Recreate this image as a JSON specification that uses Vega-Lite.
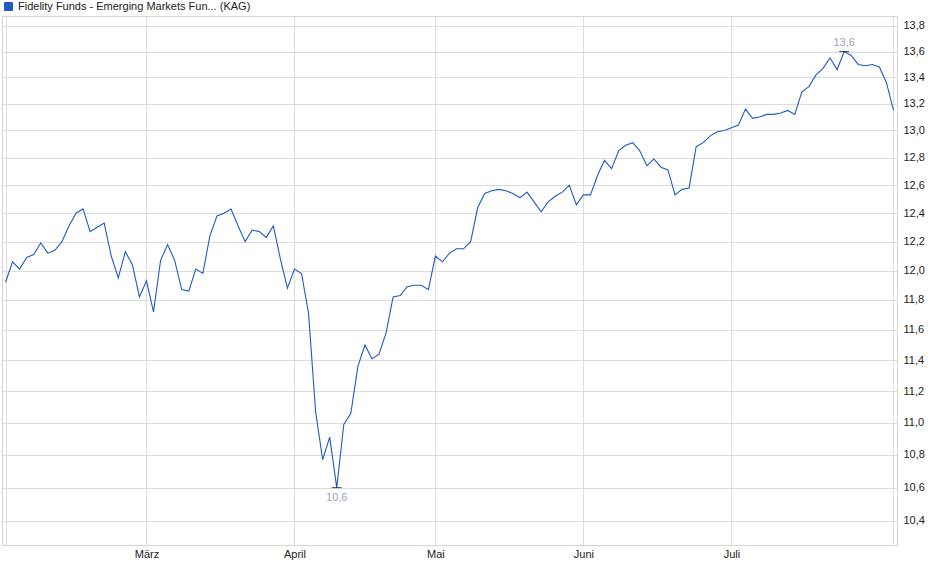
{
  "$schema": "https://vega.github.io/schema/vega-lite/v6.json",
  "width": 895,
  "height": 529,
  "autosize": "none",
  "padding": {"left": 2, "top": 16, "right": 43, "bottom": 34},
  "background": "white",
  "data": {
    "values": [
      {"date": "2025-02-03", "price": 11.92},
      {"date": "2025-02-04", "price": 12.06},
      {"date": "2025-02-05", "price": 12.01},
      {"date": "2025-02-06", "price": 12.09},
      {"date": "2025-02-07", "price": 12.11},
      {"date": "2025-02-10", "price": 12.19},
      {"date": "2025-02-11", "price": 12.12},
      {"date": "2025-02-12", "price": 12.14},
      {"date": "2025-02-13", "price": 12.20},
      {"date": "2025-02-14", "price": 12.31},
      {"date": "2025-02-17", "price": 12.40},
      {"date": "2025-02-18", "price": 12.43},
      {"date": "2025-02-19", "price": 12.27},
      {"date": "2025-02-20", "price": 12.30},
      {"date": "2025-02-21", "price": 12.33},
      {"date": "2025-02-24", "price": 12.10},
      {"date": "2025-02-25", "price": 11.95},
      {"date": "2025-02-26", "price": 12.13},
      {"date": "2025-02-27", "price": 12.04},
      {"date": "2025-02-28", "price": 11.82},
      {"date": "2025-03-03", "price": 11.93},
      {"date": "2025-03-04", "price": 11.72},
      {"date": "2025-03-05", "price": 12.07},
      {"date": "2025-03-06", "price": 12.18},
      {"date": "2025-03-07", "price": 12.07},
      {"date": "2025-03-10", "price": 11.87},
      {"date": "2025-03-11", "price": 11.86},
      {"date": "2025-03-12", "price": 12.01},
      {"date": "2025-03-13", "price": 11.98},
      {"date": "2025-03-14", "price": 12.24},
      {"date": "2025-03-17", "price": 12.38},
      {"date": "2025-03-18", "price": 12.40},
      {"date": "2025-03-19", "price": 12.43},
      {"date": "2025-03-20", "price": 12.31},
      {"date": "2025-03-21", "price": 12.20},
      {"date": "2025-03-24", "price": 12.28},
      {"date": "2025-03-25", "price": 12.27},
      {"date": "2025-03-26", "price": 12.23},
      {"date": "2025-03-27", "price": 12.31},
      {"date": "2025-03-28", "price": 12.08},
      {"date": "2025-03-31", "price": 11.88},
      {"date": "2025-04-01", "price": 12.01},
      {"date": "2025-04-02", "price": 11.98},
      {"date": "2025-04-03", "price": 11.71},
      {"date": "2025-04-04", "price": 11.07},
      {"date": "2025-04-07", "price": 10.77},
      {"date": "2025-04-08", "price": 10.91},
      {"date": "2025-04-09", "price": 10.60},
      {"date": "2025-04-10", "price": 10.99},
      {"date": "2025-04-11", "price": 11.06},
      {"date": "2025-04-14", "price": 11.36},
      {"date": "2025-04-15", "price": 11.50},
      {"date": "2025-04-16", "price": 11.41},
      {"date": "2025-04-17", "price": 11.44},
      {"date": "2025-04-22", "price": 11.58},
      {"date": "2025-04-23", "price": 11.82},
      {"date": "2025-04-24", "price": 11.83},
      {"date": "2025-04-25", "price": 11.89},
      {"date": "2025-04-28", "price": 11.90},
      {"date": "2025-04-29", "price": 11.90},
      {"date": "2025-04-30", "price": 11.87},
      {"date": "2025-05-02", "price": 12.10},
      {"date": "2025-05-05", "price": 12.06},
      {"date": "2025-05-06", "price": 12.12},
      {"date": "2025-05-07", "price": 12.15},
      {"date": "2025-05-08", "price": 12.15},
      {"date": "2025-05-09", "price": 12.20},
      {"date": "2025-05-12", "price": 12.44},
      {"date": "2025-05-13", "price": 12.54},
      {"date": "2025-05-14", "price": 12.56},
      {"date": "2025-05-15", "price": 12.57},
      {"date": "2025-05-16", "price": 12.56},
      {"date": "2025-05-19", "price": 12.54},
      {"date": "2025-05-20", "price": 12.51},
      {"date": "2025-05-21", "price": 12.55},
      {"date": "2025-05-22", "price": 12.48},
      {"date": "2025-05-23", "price": 12.41},
      {"date": "2025-05-26", "price": 12.48},
      {"date": "2025-05-27", "price": 12.52},
      {"date": "2025-05-28", "price": 12.55},
      {"date": "2025-05-29", "price": 12.60},
      {"date": "2025-05-30", "price": 12.46},
      {"date": "2025-06-02", "price": 12.53},
      {"date": "2025-06-03", "price": 12.53},
      {"date": "2025-06-04", "price": 12.67},
      {"date": "2025-06-05", "price": 12.78},
      {"date": "2025-06-06", "price": 12.72},
      {"date": "2025-06-09", "price": 12.85},
      {"date": "2025-06-10", "price": 12.89},
      {"date": "2025-06-11", "price": 12.91},
      {"date": "2025-06-12", "price": 12.85},
      {"date": "2025-06-13", "price": 12.74},
      {"date": "2025-06-16", "price": 12.79},
      {"date": "2025-06-17", "price": 12.73},
      {"date": "2025-06-18", "price": 12.71},
      {"date": "2025-06-19", "price": 12.53},
      {"date": "2025-06-20", "price": 12.57},
      {"date": "2025-06-23", "price": 12.58},
      {"date": "2025-06-24", "price": 12.88},
      {"date": "2025-06-25", "price": 12.91},
      {"date": "2025-06-26", "price": 12.96},
      {"date": "2025-06-27", "price": 12.99},
      {"date": "2025-06-30", "price": 13.00},
      {"date": "2025-07-01", "price": 13.02},
      {"date": "2025-07-02", "price": 13.04},
      {"date": "2025-07-03", "price": 13.16},
      {"date": "2025-07-04", "price": 13.09},
      {"date": "2025-07-07", "price": 13.10},
      {"date": "2025-07-08", "price": 13.12},
      {"date": "2025-07-09", "price": 13.12},
      {"date": "2025-07-10", "price": 13.13},
      {"date": "2025-07-11", "price": 13.15},
      {"date": "2025-07-14", "price": 13.12},
      {"date": "2025-07-15", "price": 13.29},
      {"date": "2025-07-16", "price": 13.33},
      {"date": "2025-07-17", "price": 13.42},
      {"date": "2025-07-18", "price": 13.47},
      {"date": "2025-07-21", "price": 13.55},
      {"date": "2025-07-22", "price": 13.46},
      {"date": "2025-07-23", "price": 13.60},
      {"date": "2025-07-24", "price": 13.57},
      {"date": "2025-07-25", "price": 13.50},
      {"date": "2025-07-28", "price": 13.49},
      {"date": "2025-07-29", "price": 13.50},
      {"date": "2025-07-30", "price": 13.48},
      {"date": "2025-07-31", "price": 13.36},
      {"date": "2025-08-01", "price": 13.15}
    ]
  },
  "encoding": {
    "x": {
      "field": "date",
      "type": "ordinal",
      "scale": {"type": "point", "padding": 0.5},
      "axis": {
        "title": null,
        "values": ["2025-02-03", "2025-03-03", "2025-04-01", "2025-05-02", "2025-06-02", "2025-07-01", "2025-08-01"],
        "labelExpr": "['','','','März','April','Mai','Juni','Juli',''][toNumber(substring(datum.value,5,7))]",
        "labelAngle": 0,
        "labelPadding": 3,
        "ticks": false,
        "grid": true,
        "domain": true
      }
    },
    "y": {
      "field": "price",
      "type": "quantitative",
      "scale": {"type": "log", "domain": [10.258, 13.879], "nice": false, "zero": false},
      "axis": {
        "title": null,
        "orient": "right",
        "values": [10.4, 10.6, 10.8, 11.0, 11.2, 11.4, 11.6, 11.8, 12.0, 12.2, 12.4, 12.6, 12.8, 13.0, 13.2, 13.4, 13.6, 13.8],
        "format": ".1f",
        "ticks": false,
        "domain": false,
        "grid": true,
        "labelPadding": 6
      }
    }
  },
  "layer": [
    {
      "mark": {"type": "line", "strokeWidth": 1.1, "interpolate": "linear"},
      "encoding": {
        "color": {
          "datum": "Fidelity Funds - Emerging Markets Fun... (KAG)",
          "scale": {"range": ["#1f5bc6"]},
          "legend": {
            "title": null,
            "orient": "none",
            "legendX": 1,
            "legendY": -15,
            "symbolType": "square",
            "symbolSize": 64,
            "symbolFillColor": "#1f5bc6",
            "symbolStrokeColor": "#17387a",
            "symbolStrokeWidth": 1,
            "labelFontSize": 11,
            "labelColor": "#222222",
            "labelOffset": 4,
            "labelLimit": 600,
            "padding": 0
          }
        }
      }
    },
    {
      "transform": [
        {"joinaggregate": [{"op": "min", "field": "price", "as": "lo"}]},
        {"filter": "datum.price == datum.lo"}
      ],
      "layer": [
        {"mark": {"type": "tick", "orient": "horizontal", "size": 10, "thickness": 1, "color": "black"}},
        {
          "mark": {"type": "text", "dy": 10, "baseline": "middle", "fontSize": 11, "color": "#9aa3b5"},
          "encoding": {"text": {"field": "price", "type": "quantitative", "format": ".1f"}}
        }
      ]
    },
    {
      "transform": [
        {"joinaggregate": [{"op": "max", "field": "price", "as": "hi"}]},
        {"filter": "datum.price == datum.hi"}
      ],
      "layer": [
        {"mark": {"type": "tick", "orient": "horizontal", "size": 10, "thickness": 1, "color": "black"}},
        {
          "mark": {"type": "text", "dy": -9, "baseline": "middle", "fontSize": 11, "color": "#9aa3b5"},
          "encoding": {"text": {"field": "price", "type": "quantitative", "format": ".1f"}}
        }
      ]
    }
  ],
  "config": {
    "font": "Liberation Sans",
    "locale": {
      "number": {"decimal": ",", "thousands": ".", "grouping": [3], "currency": ["", " €"]}
    },
    "view": {"stroke": "#d4d4d4", "strokeWidth": 1},
    "axis": {
      "gridColor": "#dcdcdc",
      "gridWidth": 1,
      "domainColor": "#d4d4d4",
      "labelFontSize": 11,
      "labelColor": "#222222",
      "labelFont": "Liberation Sans"
    },
    "legend": {"labelFont": "Liberation Sans"}
  }
}
